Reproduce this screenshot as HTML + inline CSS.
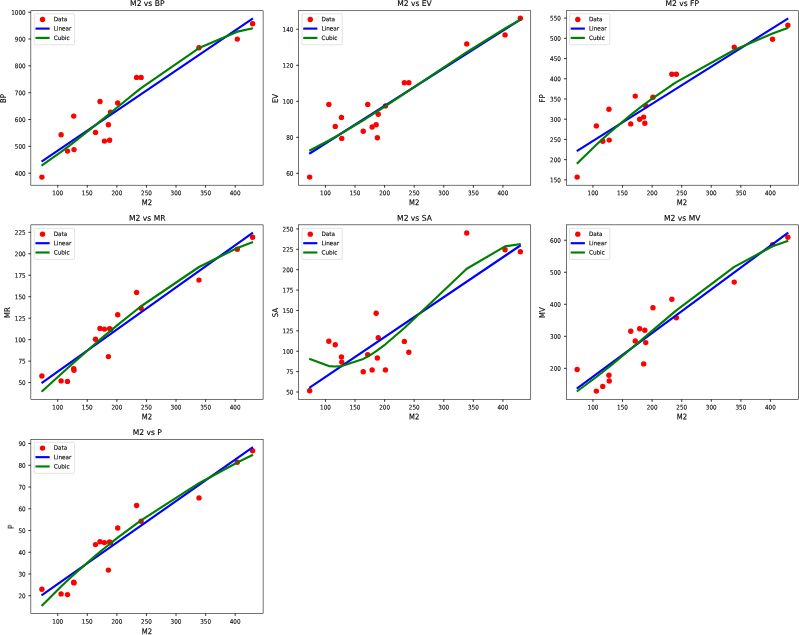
<!DOCTYPE html>
<html lang="en"><head><meta charset="utf-8"><title>M2 regression plots</title>
<style>html,body{margin:0;padding:0;background:#fff}body{width:799px;height:635px;overflow:hidden}svg{display:block}.b{filter:blur(0.4px)}.yl{filter:blur(0.2px)}text{stroke:#000;stroke-width:0.12px}</style>
</head><body>
<svg width="799" height="635" viewBox="0 0 799 635" font-family="'DejaVu Sans', 'Liberation Sans', sans-serif" fill="#000" text-rendering="geometricPrecision">
<rect width="799" height="635" fill="#fff"/>
<g class="b">
<g>
<g fill="#f00"><circle cx="41.9" cy="177.1" r="2.7"/><circle cx="61.1" cy="134.8" r="2.7"/><circle cx="67.5" cy="151.1" r="2.7"/><circle cx="73.7" cy="116.1" r="2.7"/><circle cx="74" cy="149.6" r="2.7"/><circle cx="95.5" cy="132.4" r="2.7"/><circle cx="100" cy="101.5" r="2.7"/><circle cx="104.4" cy="141.1" r="2.7"/><circle cx="108.4" cy="124.7" r="2.7"/><circle cx="109.6" cy="140.3" r="2.7"/><circle cx="110.5" cy="112.1" r="2.7"/><circle cx="117.7" cy="103" r="2.7"/><circle cx="136.6" cy="77.4" r="2.7"/><circle cx="141.1" cy="77.4" r="2.7"/><circle cx="199" cy="47.7" r="2.7"/><circle cx="237.3" cy="39.1" r="2.7"/><circle cx="252.6" cy="23.8" r="2.7"/></g>
<polyline fill="none" stroke="#00f" stroke-width="2.15" points="41.53,161.54 252.97,18.4"/>
<polyline fill="none" stroke="#008000" stroke-width="2.15" stroke-linejoin="round" points="41.53,165.51 61.1,151.89 67.5,147.13 73.7,142.4 74,142.17 95.5,125.11 100,121.45 104.4,117.86 108.4,114.59 109.6,113.61 110.5,112.87 117.7,106.98 136.6,91.68 141.1,88.11 199,48.02 237.3,31.66 253.04,28.32"/>
<path d="M57.7 185.2v2.5M87.28 185.2v2.5M116.86 185.2v2.5M146.44 185.2v2.5M176.02 185.2v2.5M205.6 185.2v2.5M235.18 185.2v2.5M30.85 12.21h-2.5M30.85 39.04h-2.5M30.85 65.86h-2.5M30.85 92.69h-2.5M30.85 119.51h-2.5M30.85 146.34h-2.5M30.85 173.16h-2.5" stroke="#000" stroke-width="0.8" fill="none"/>
<rect x="30.85" y="10.75" width="232.25" height="174.45" fill="none" stroke="#000" stroke-width="0.55"/>
<g font-size="6.3" text-anchor="middle">
<text transform="translate(57.7 195.2) rotate(0.04) scale(0.9 1)">100</text>
<text transform="translate(87.28 195.2) rotate(0.04) scale(0.9 1)">150</text>
<text transform="translate(116.86 195.2) rotate(0.04) scale(0.9 1)">200</text>
<text transform="translate(146.44 195.2) rotate(0.04) scale(0.9 1)">250</text>
<text transform="translate(176.02 195.2) rotate(0.04) scale(0.9 1)">300</text>
<text transform="translate(205.6 195.2) rotate(0.04) scale(0.9 1)">350</text>
<text transform="translate(235.18 195.2) rotate(0.04) scale(0.9 1)">400</text>
</g>
<g font-size="6.3" text-anchor="end">
<text transform="translate(25.6 14.71) rotate(0.04) scale(0.9 1)">1000</text>
<text transform="translate(25.6 41.54) rotate(0.04) scale(0.9 1)">900</text>
<text transform="translate(25.6 68.36) rotate(0.04) scale(0.9 1)">800</text>
<text transform="translate(25.6 95.19) rotate(0.04) scale(0.9 1)">700</text>
<text transform="translate(25.6 122.01) rotate(0.04) scale(0.9 1)">600</text>
<text transform="translate(25.6 148.84) rotate(0.04) scale(0.9 1)">500</text>
<text transform="translate(25.6 175.66) rotate(0.04) scale(0.9 1)">400</text>
</g>
<text transform="translate(147.28 5.95) rotate(0.04) scale(0.96 1)" font-size="7.9" text-anchor="middle">M2 vs BP</text>
<text transform="translate(146.98 205.3) rotate(0.04) scale(0.86 1)" font-size="8.0" text-anchor="middle">M2</text>
<rect x="34.3" y="13.7" width="40.2" height="31.1" rx="1.1" fill="#fff" fill-opacity="0.8" stroke="#ccc" stroke-opacity="0.8" stroke-width="0.7"/>
<circle cx="42.55" cy="19.55" r="2.7" fill="#f00"/>
<path d="M35.45 28.6H49.65" stroke="#00f" stroke-width="2.15" stroke-linecap="butt"/>
<path d="M35.45 37.9H49.65" stroke="#008000" stroke-width="2.15" stroke-linecap="butt"/>
<g font-size="6.0">
<text transform="translate(53.65 21.3) rotate(0.04) scale(0.95 1)">Data</text>
<text transform="translate(53.65 30.6) rotate(0.04) scale(0.95 1)">Linear</text>
<text transform="translate(53.65 39.9) rotate(0.04) scale(0.95 1)">Cubic</text>
</g>
</g>
<g>
<g fill="#f00"><circle cx="309.65" cy="177.1" r="2.7"/><circle cx="328.85" cy="104.5" r="2.7"/><circle cx="335.25" cy="126.4" r="2.7"/><circle cx="341.45" cy="117.4" r="2.7"/><circle cx="341.75" cy="138.4" r="2.7"/><circle cx="363.25" cy="131.2" r="2.7"/><circle cx="367.75" cy="104.5" r="2.7"/><circle cx="372.15" cy="127" r="2.7"/><circle cx="376.15" cy="124.7" r="2.7"/><circle cx="377.35" cy="137.7" r="2.7"/><circle cx="378.25" cy="114.2" r="2.7"/><circle cx="385.45" cy="105.9" r="2.7"/><circle cx="404.35" cy="82.8" r="2.7"/><circle cx="408.85" cy="82.8" r="2.7"/><circle cx="466.75" cy="43.9" r="2.7"/><circle cx="505.05" cy="34.9" r="2.7"/><circle cx="520.35" cy="18.2" r="2.7"/></g>
<polyline fill="none" stroke="#00f" stroke-width="2.15" points="309.27,153.73 520.73,19.39"/>
<polyline fill="none" stroke="#008000" stroke-width="2.15" stroke-linejoin="round" points="309.25,150.75 328.85,140.46 335.25,136.88 341.45,133.33 341.75,133.16 363.25,120.23 367.75,117.42 372.15,114.65 376.15,112.1 377.35,111.33 378.25,110.76 385.45,106.11 404.35,93.68 408.85,90.69 466.75,52.22 505.05,28.41 520.74,19.43"/>
<path d="M325.45 185.2v2.5M355.03 185.2v2.5M384.61 185.2v2.5M414.19 185.2v2.5M443.77 185.2v2.5M473.35 185.2v2.5M502.93 185.2v2.5M298.7 29.28h-2.5M298.7 65.29h-2.5M298.7 101.3h-2.5M298.7 137.31h-2.5M298.7 173.32h-2.5" stroke="#000" stroke-width="0.8" fill="none"/>
<rect x="298.7" y="10.75" width="232.05" height="174.45" fill="none" stroke="#000" stroke-width="0.55"/>
<g font-size="6.3" text-anchor="middle">
<text transform="translate(325.45 195.2) rotate(0.04) scale(0.9 1)">100</text>
<text transform="translate(355.03 195.2) rotate(0.04) scale(0.9 1)">150</text>
<text transform="translate(384.61 195.2) rotate(0.04) scale(0.9 1)">200</text>
<text transform="translate(414.19 195.2) rotate(0.04) scale(0.9 1)">250</text>
<text transform="translate(443.77 195.2) rotate(0.04) scale(0.9 1)">300</text>
<text transform="translate(473.35 195.2) rotate(0.04) scale(0.9 1)">350</text>
<text transform="translate(502.93 195.2) rotate(0.04) scale(0.9 1)">400</text>
</g>
<g font-size="6.3" text-anchor="end">
<text transform="translate(293.35 31.78) rotate(0.04) scale(0.9 1)">140</text>
<text transform="translate(293.35 67.79) rotate(0.04) scale(0.9 1)">120</text>
<text transform="translate(293.35 103.8) rotate(0.04) scale(0.9 1)">100</text>
<text transform="translate(293.35 139.81) rotate(0.04) scale(0.9 1)">80</text>
<text transform="translate(293.35 175.82) rotate(0.04) scale(0.9 1)">60</text>
</g>
<text transform="translate(414.48 5.95) rotate(0.04) scale(0.96 1)" font-size="7.9" text-anchor="middle">M2 vs EV</text>
<text transform="translate(414.23 205.3) rotate(0.04) scale(0.86 1)" font-size="8.0" text-anchor="middle">M2</text>
<rect x="302.05" y="13.7" width="40.2" height="31.1" rx="1.1" fill="#fff" fill-opacity="0.8" stroke="#ccc" stroke-opacity="0.8" stroke-width="0.7"/>
<circle cx="310.3" cy="19.55" r="2.7" fill="#f00"/>
<path d="M303.2 28.6H317.4" stroke="#00f" stroke-width="2.15" stroke-linecap="butt"/>
<path d="M303.2 37.9H317.4" stroke="#008000" stroke-width="2.15" stroke-linecap="butt"/>
<g font-size="6.0">
<text transform="translate(321.4 21.3) rotate(0.04) scale(0.95 1)">Data</text>
<text transform="translate(321.4 30.6) rotate(0.04) scale(0.95 1)">Linear</text>
<text transform="translate(321.4 39.9) rotate(0.04) scale(0.95 1)">Cubic</text>
</g>
</g>
<g>
<g fill="#f00"><circle cx="577.15" cy="177.1" r="2.7"/><circle cx="596.35" cy="125.9" r="2.7"/><circle cx="602.75" cy="141.3" r="2.7"/><circle cx="608.95" cy="109.2" r="2.7"/><circle cx="609.25" cy="140.1" r="2.7"/><circle cx="630.75" cy="123.9" r="2.7"/><circle cx="635.25" cy="96.1" r="2.7"/><circle cx="639.65" cy="119.3" r="2.7"/><circle cx="643.65" cy="117.1" r="2.7"/><circle cx="644.85" cy="123.3" r="2.7"/><circle cx="645.75" cy="105.7" r="2.7"/><circle cx="652.95" cy="97.3" r="2.7"/><circle cx="671.85" cy="74.3" r="2.7"/><circle cx="676.35" cy="74.3" r="2.7"/><circle cx="734.25" cy="47.1" r="2.7"/><circle cx="772.55" cy="39.3" r="2.7"/><circle cx="787.85" cy="25.2" r="2.7"/></g>
<polyline fill="none" stroke="#00f" stroke-width="2.15" points="576.77,151.08 788.23,18.32"/>
<polyline fill="none" stroke="#008000" stroke-width="2.15" stroke-linejoin="round" points="576.83,163.84 596.35,144.77 602.75,138.86 608.95,133.29 609.25,133.03 630.75,114.92 635.25,111.35 639.65,107.94 643.65,104.89 644.85,103.99 645.75,103.32 652.95,98.04 671.85,85.02 676.35,82.1 734.25,49.96 772.55,33.57 788.27,27.78"/>
<path d="M592.95 185.2v2.5M622.53 185.2v2.5M652.11 185.2v2.5M681.69 185.2v2.5M711.27 185.2v2.5M740.85 185.2v2.5M770.43 185.2v2.5M566.5 18.1h-2.5M566.5 38.32h-2.5M566.5 58.55h-2.5M566.5 78.77h-2.5M566.5 98.99h-2.5M566.5 119.21h-2.5M566.5 139.43h-2.5M566.5 159.65h-2.5M566.5 179.88h-2.5" stroke="#000" stroke-width="0.8" fill="none"/>
<rect x="566.5" y="10.75" width="232" height="174.45" fill="none" stroke="#000" stroke-width="0.55"/>
<g font-size="6.3" text-anchor="middle">
<text transform="translate(592.95 195.2) rotate(0.04) scale(0.9 1)">100</text>
<text transform="translate(622.53 195.2) rotate(0.04) scale(0.9 1)">150</text>
<text transform="translate(652.11 195.2) rotate(0.04) scale(0.9 1)">200</text>
<text transform="translate(681.69 195.2) rotate(0.04) scale(0.9 1)">250</text>
<text transform="translate(711.27 195.2) rotate(0.04) scale(0.9 1)">300</text>
<text transform="translate(740.85 195.2) rotate(0.04) scale(0.9 1)">350</text>
<text transform="translate(770.43 195.2) rotate(0.04) scale(0.9 1)">400</text>
</g>
<g font-size="6.3" text-anchor="end">
<text transform="translate(560.85 20.6) rotate(0.04) scale(0.9 1)">550</text>
<text transform="translate(560.85 40.82) rotate(0.04) scale(0.9 1)">500</text>
<text transform="translate(560.85 61.05) rotate(0.04) scale(0.9 1)">450</text>
<text transform="translate(560.85 81.27) rotate(0.04) scale(0.9 1)">400</text>
<text transform="translate(560.85 101.49) rotate(0.04) scale(0.9 1)">350</text>
<text transform="translate(560.85 121.71) rotate(0.04) scale(0.9 1)">300</text>
<text transform="translate(560.85 141.93) rotate(0.04) scale(0.9 1)">250</text>
<text transform="translate(560.85 162.15) rotate(0.04) scale(0.9 1)">200</text>
<text transform="translate(560.85 182.38) rotate(0.04) scale(0.9 1)">150</text>
</g>
<text transform="translate(682.2 5.95) rotate(0.04) scale(0.96 1)" font-size="7.9" text-anchor="middle">M2 vs FP</text>
<text transform="translate(681.9 205.3) rotate(0.04) scale(0.86 1)" font-size="8.0" text-anchor="middle">M2</text>
<rect x="569.55" y="13.7" width="40.2" height="31.1" rx="1.1" fill="#fff" fill-opacity="0.8" stroke="#ccc" stroke-opacity="0.8" stroke-width="0.7"/>
<circle cx="577.8" cy="19.55" r="2.7" fill="#f00"/>
<path d="M570.7 28.6H584.9" stroke="#00f" stroke-width="2.15" stroke-linecap="butt"/>
<path d="M570.7 37.9H584.9" stroke="#008000" stroke-width="2.15" stroke-linecap="butt"/>
<g font-size="6.0">
<text transform="translate(588.9 21.3) rotate(0.04) scale(0.95 1)">Data</text>
<text transform="translate(588.9 30.6) rotate(0.04) scale(0.95 1)">Linear</text>
<text transform="translate(588.9 39.9) rotate(0.04) scale(0.95 1)">Cubic</text>
</g>
</g>
<g>
<g fill="#f00"><circle cx="41.9" cy="376" r="2.7"/><circle cx="61.1" cy="380.9" r="2.7"/><circle cx="67.5" cy="381.4" r="2.7"/><circle cx="73.7" cy="368.6" r="2.7"/><circle cx="74" cy="370.2" r="2.7"/><circle cx="95.5" cy="339.2" r="2.7"/><circle cx="100" cy="328.4" r="2.7"/><circle cx="104.4" cy="329.1" r="2.7"/><circle cx="108.4" cy="356.6" r="2.7"/><circle cx="109.6" cy="328.6" r="2.7"/><circle cx="110.5" cy="329.4" r="2.7"/><circle cx="117.7" cy="314.8" r="2.7"/><circle cx="136.6" cy="292.5" r="2.7"/><circle cx="141.1" cy="308.3" r="2.7"/><circle cx="199" cy="280.1" r="2.7"/><circle cx="237.3" cy="249.3" r="2.7"/><circle cx="252.6" cy="237.3" r="2.7"/></g>
<polyline fill="none" stroke="#00f" stroke-width="2.15" points="41.53,383.12 252.97,232.74"/>
<polyline fill="none" stroke="#008000" stroke-width="2.15" stroke-linejoin="round" points="41.57,391.74 61.1,373.97 67.5,368.21 73.7,362.66 74,362.39 95.5,343.54 100,339.68 104.4,335.94 108.4,332.56 109.6,331.56 110.5,330.81 117.7,324.84 136.6,309.73 141.1,306.25 199,266.99 237.3,247.94 253.02,242.04"/>
<path d="M57.7 399.4v2.5M87.28 399.4v2.5M116.86 399.4v2.5M146.44 399.4v2.5M176.02 399.4v2.5M205.6 399.4v2.5M235.18 399.4v2.5M30.85 232.31h-2.5M30.85 253.78h-2.5M30.85 275.25h-2.5M30.85 296.72h-2.5M30.85 318.18h-2.5M30.85 339.65h-2.5M30.85 361.12h-2.5M30.85 382.59h-2.5" stroke="#000" stroke-width="0.8" fill="none"/>
<rect x="30.85" y="224.85" width="232.25" height="174.55" fill="none" stroke="#000" stroke-width="0.55"/>
<g font-size="6.3" text-anchor="middle">
<text transform="translate(57.7 409.4) rotate(0.04) scale(0.9 1)">100</text>
<text transform="translate(87.28 409.4) rotate(0.04) scale(0.9 1)">150</text>
<text transform="translate(116.86 409.4) rotate(0.04) scale(0.9 1)">200</text>
<text transform="translate(146.44 409.4) rotate(0.04) scale(0.9 1)">250</text>
<text transform="translate(176.02 409.4) rotate(0.04) scale(0.9 1)">300</text>
<text transform="translate(205.6 409.4) rotate(0.04) scale(0.9 1)">350</text>
<text transform="translate(235.18 409.4) rotate(0.04) scale(0.9 1)">400</text>
</g>
<g font-size="6.3" text-anchor="end">
<text transform="translate(25.6 234.81) rotate(0.04) scale(0.9 1)">225</text>
<text transform="translate(25.6 256.28) rotate(0.04) scale(0.9 1)">200</text>
<text transform="translate(25.6 277.75) rotate(0.04) scale(0.9 1)">175</text>
<text transform="translate(25.6 299.22) rotate(0.04) scale(0.9 1)">150</text>
<text transform="translate(25.6 320.68) rotate(0.04) scale(0.9 1)">125</text>
<text transform="translate(25.6 342.15) rotate(0.04) scale(0.9 1)">100</text>
<text transform="translate(25.6 363.62) rotate(0.04) scale(0.9 1)">75</text>
<text transform="translate(25.6 385.09) rotate(0.04) scale(0.9 1)">50</text>
</g>
<text transform="translate(147.28 220.7) rotate(0.04) scale(0.96 1)" font-size="7.9" text-anchor="middle">M2 vs MR</text>
<text transform="translate(146.98 419.5) rotate(0.04) scale(0.86 1)" font-size="8.0" text-anchor="middle">M2</text>
<rect x="34.3" y="228.3" width="40.2" height="31.1" rx="1.1" fill="#fff" fill-opacity="0.8" stroke="#ccc" stroke-opacity="0.8" stroke-width="0.7"/>
<circle cx="42.55" cy="234.15" r="2.7" fill="#f00"/>
<path d="M35.45 243.2H49.65" stroke="#00f" stroke-width="2.15" stroke-linecap="butt"/>
<path d="M35.45 252.5H49.65" stroke="#008000" stroke-width="2.15" stroke-linecap="butt"/>
<g font-size="6.0">
<text transform="translate(53.65 235.9) rotate(0.04) scale(0.95 1)">Data</text>
<text transform="translate(53.65 245.2) rotate(0.04) scale(0.95 1)">Linear</text>
<text transform="translate(53.65 254.5) rotate(0.04) scale(0.95 1)">Cubic</text>
</g>
</g>
<g>
<g fill="#f00"><circle cx="309.65" cy="390.8" r="2.7"/><circle cx="328.85" cy="341.3" r="2.7"/><circle cx="335.25" cy="344.7" r="2.7"/><circle cx="341.45" cy="357" r="2.7"/><circle cx="341.75" cy="362.1" r="2.7"/><circle cx="363.25" cy="371.8" r="2.7"/><circle cx="367.75" cy="354.6" r="2.7"/><circle cx="372.15" cy="369.9" r="2.7"/><circle cx="376.15" cy="313.2" r="2.7"/><circle cx="377.35" cy="358" r="2.7"/><circle cx="378.25" cy="337.8" r="2.7"/><circle cx="385.45" cy="369.9" r="2.7"/><circle cx="404.35" cy="341.4" r="2.7"/><circle cx="408.85" cy="352.2" r="2.7"/><circle cx="466.75" cy="233" r="2.7"/><circle cx="505.05" cy="249.8" r="2.7"/><circle cx="520.35" cy="251.7" r="2.7"/></g>
<polyline fill="none" stroke="#00f" stroke-width="2.15" points="309.28,387.78 520.72,245.26"/>
<polyline fill="none" stroke="#008000" stroke-width="2.15" stroke-linejoin="round" points="309.23,358.7 328.85,366.07 335.25,366.51 341.45,366.1 341.75,366.06 363.25,358.91 367.75,356.46 372.15,353.8 376.15,351.15 377.35,350.32 378.25,349.69 385.45,344.3 404.35,327.95 408.85,323.72 466.75,268.8 505.05,246.4 520.79,244.03"/>
<path d="M325.45 399.4v2.5M355.03 399.4v2.5M384.61 399.4v2.5M414.19 399.4v2.5M443.77 399.4v2.5M473.35 399.4v2.5M502.93 399.4v2.5M298.7 228.91h-2.5M298.7 249.3h-2.5M298.7 269.68h-2.5M298.7 290.07h-2.5M298.7 310.46h-2.5M298.7 330.84h-2.5M298.7 351.23h-2.5M298.7 371.62h-2.5M298.7 392h-2.5" stroke="#000" stroke-width="0.8" fill="none"/>
<rect x="298.7" y="224.85" width="232.05" height="174.55" fill="none" stroke="#000" stroke-width="0.55"/>
<g font-size="6.3" text-anchor="middle">
<text transform="translate(325.45 409.4) rotate(0.04) scale(0.9 1)">100</text>
<text transform="translate(355.03 409.4) rotate(0.04) scale(0.9 1)">150</text>
<text transform="translate(384.61 409.4) rotate(0.04) scale(0.9 1)">200</text>
<text transform="translate(414.19 409.4) rotate(0.04) scale(0.9 1)">250</text>
<text transform="translate(443.77 409.4) rotate(0.04) scale(0.9 1)">300</text>
<text transform="translate(473.35 409.4) rotate(0.04) scale(0.9 1)">350</text>
<text transform="translate(502.93 409.4) rotate(0.04) scale(0.9 1)">400</text>
</g>
<g font-size="6.3" text-anchor="end">
<text transform="translate(293.35 231.41) rotate(0.04) scale(0.9 1)">250</text>
<text transform="translate(293.35 251.8) rotate(0.04) scale(0.9 1)">225</text>
<text transform="translate(293.35 272.18) rotate(0.04) scale(0.9 1)">200</text>
<text transform="translate(293.35 292.57) rotate(0.04) scale(0.9 1)">175</text>
<text transform="translate(293.35 312.96) rotate(0.04) scale(0.9 1)">150</text>
<text transform="translate(293.35 333.34) rotate(0.04) scale(0.9 1)">125</text>
<text transform="translate(293.35 353.73) rotate(0.04) scale(0.9 1)">100</text>
<text transform="translate(293.35 374.12) rotate(0.04) scale(0.9 1)">75</text>
<text transform="translate(293.35 394.5) rotate(0.04) scale(0.9 1)">50</text>
</g>
<text transform="translate(414.48 220.7) rotate(0.04) scale(0.96 1)" font-size="7.9" text-anchor="middle">M2 vs SA</text>
<text transform="translate(414.23 419.5) rotate(0.04) scale(0.86 1)" font-size="8.0" text-anchor="middle">M2</text>
<rect x="302.05" y="228.3" width="40.2" height="31.1" rx="1.1" fill="#fff" fill-opacity="0.8" stroke="#ccc" stroke-opacity="0.8" stroke-width="0.7"/>
<circle cx="310.3" cy="234.15" r="2.7" fill="#f00"/>
<path d="M303.2 243.2H317.4" stroke="#00f" stroke-width="2.15" stroke-linecap="butt"/>
<path d="M303.2 252.5H317.4" stroke="#008000" stroke-width="2.15" stroke-linecap="butt"/>
<g font-size="6.0">
<text transform="translate(321.4 235.9) rotate(0.04) scale(0.95 1)">Data</text>
<text transform="translate(321.4 245.2) rotate(0.04) scale(0.95 1)">Linear</text>
<text transform="translate(321.4 254.5) rotate(0.04) scale(0.95 1)">Cubic</text>
</g>
</g>
<g>
<g fill="#f00"><circle cx="577.15" cy="369.5" r="2.7"/><circle cx="596.35" cy="391.1" r="2.7"/><circle cx="602.75" cy="386.4" r="2.7"/><circle cx="608.95" cy="375.2" r="2.7"/><circle cx="609.25" cy="381" r="2.7"/><circle cx="630.75" cy="331.3" r="2.7"/><circle cx="635.25" cy="341" r="2.7"/><circle cx="639.65" cy="328.7" r="2.7"/><circle cx="643.65" cy="363.9" r="2.7"/><circle cx="644.85" cy="330.3" r="2.7"/><circle cx="645.75" cy="342.6" r="2.7"/><circle cx="652.95" cy="307.8" r="2.7"/><circle cx="671.85" cy="299.3" r="2.7"/><circle cx="676.35" cy="317.7" r="2.7"/><circle cx="734.25" cy="282.1" r="2.7"/><circle cx="772.55" cy="244.6" r="2.7"/><circle cx="787.85" cy="237.3" r="2.7"/></g>
<polyline fill="none" stroke="#00f" stroke-width="2.15" points="576.79,388.62 788.21,232.74"/>
<polyline fill="none" stroke="#008000" stroke-width="2.15" stroke-linejoin="round" points="576.79,391.5 596.35,377 602.75,371.99 608.95,367.03 609.25,366.79 630.75,349 635.25,345.2 639.65,341.47 643.65,338.07 644.85,337.04 645.75,336.28 652.95,330.14 671.85,314.16 676.35,310.41 734.25,266.83 772.55,246.32 788.27,240.69"/>
<path d="M592.95 399.4v2.5M622.53 399.4v2.5M652.11 399.4v2.5M681.69 399.4v2.5M711.27 399.4v2.5M740.85 399.4v2.5M770.43 399.4v2.5M566.5 240.22h-2.5M566.5 272.25h-2.5M566.5 304.28h-2.5M566.5 336.31h-2.5M566.5 368.34h-2.5" stroke="#000" stroke-width="0.8" fill="none"/>
<rect x="566.5" y="224.85" width="232" height="174.55" fill="none" stroke="#000" stroke-width="0.55"/>
<g font-size="6.3" text-anchor="middle">
<text transform="translate(592.95 409.4) rotate(0.04) scale(0.9 1)">100</text>
<text transform="translate(622.53 409.4) rotate(0.04) scale(0.9 1)">150</text>
<text transform="translate(652.11 409.4) rotate(0.04) scale(0.9 1)">200</text>
<text transform="translate(681.69 409.4) rotate(0.04) scale(0.9 1)">250</text>
<text transform="translate(711.27 409.4) rotate(0.04) scale(0.9 1)">300</text>
<text transform="translate(740.85 409.4) rotate(0.04) scale(0.9 1)">350</text>
<text transform="translate(770.43 409.4) rotate(0.04) scale(0.9 1)">400</text>
</g>
<g font-size="6.3" text-anchor="end">
<text transform="translate(560.85 242.72) rotate(0.04) scale(0.9 1)">600</text>
<text transform="translate(560.85 274.75) rotate(0.04) scale(0.9 1)">500</text>
<text transform="translate(560.85 306.78) rotate(0.04) scale(0.9 1)">400</text>
<text transform="translate(560.85 338.81) rotate(0.04) scale(0.9 1)">300</text>
<text transform="translate(560.85 370.84) rotate(0.04) scale(0.9 1)">200</text>
</g>
<text transform="translate(682.2 220.7) rotate(0.04) scale(0.96 1)" font-size="7.9" text-anchor="middle">M2 vs MV</text>
<text transform="translate(681.9 419.5) rotate(0.04) scale(0.86 1)" font-size="8.0" text-anchor="middle">M2</text>
<rect x="569.55" y="228.3" width="40.2" height="31.1" rx="1.1" fill="#fff" fill-opacity="0.8" stroke="#ccc" stroke-opacity="0.8" stroke-width="0.7"/>
<circle cx="577.8" cy="234.15" r="2.7" fill="#f00"/>
<path d="M570.7 243.2H584.9" stroke="#00f" stroke-width="2.15" stroke-linecap="butt"/>
<path d="M570.7 252.5H584.9" stroke="#008000" stroke-width="2.15" stroke-linecap="butt"/>
<g font-size="6.0">
<text transform="translate(588.9 235.9) rotate(0.04) scale(0.95 1)">Data</text>
<text transform="translate(588.9 245.2) rotate(0.04) scale(0.95 1)">Linear</text>
<text transform="translate(588.9 254.5) rotate(0.04) scale(0.95 1)">Cubic</text>
</g>
</g>
<g>
<g fill="#f00"><circle cx="41.9" cy="589.3" r="2.7"/><circle cx="61.1" cy="593.9" r="2.7"/><circle cx="67.5" cy="594.6" r="2.7"/><circle cx="73.7" cy="582.2" r="2.7"/><circle cx="74" cy="582.9" r="2.7"/><circle cx="95.5" cy="544.6" r="2.7"/><circle cx="100" cy="541.7" r="2.7"/><circle cx="104.4" cy="542.6" r="2.7"/><circle cx="108.4" cy="570.1" r="2.7"/><circle cx="109.6" cy="541.9" r="2.7"/><circle cx="110.5" cy="542.9" r="2.7"/><circle cx="117.7" cy="528" r="2.7"/><circle cx="136.6" cy="505.5" r="2.7"/><circle cx="141.1" cy="521.3" r="2.7"/><circle cx="199" cy="497.9" r="2.7"/><circle cx="237.3" cy="462.3" r="2.7"/><circle cx="252.6" cy="450.8" r="2.7"/></g>
<polyline fill="none" stroke="#00f" stroke-width="2.15" points="41.53,595.4 252.97,447.1"/>
<polyline fill="none" stroke="#008000" stroke-width="2.15" stroke-linejoin="round" points="41.58,605.93 61.1,586.58 67.5,580.52 73.7,574.79 74,574.52 95.5,555.65 100,551.89 104.4,548.27 108.4,545.03 109.6,544.07 110.5,543.35 117.7,537.69 136.6,523.52 141.1,520.3 199,483.2 237.3,462.53 253,454.77"/>
<path d="M57.7 613.45v2.5M87.28 613.45v2.5M116.86 613.45v2.5M146.44 613.45v2.5M176.02 613.45v2.5M205.6 613.45v2.5M235.18 613.45v2.5M30.85 443.54h-2.5M30.85 465.29h-2.5M30.85 487.03h-2.5M30.85 508.78h-2.5M30.85 530.52h-2.5M30.85 552.27h-2.5M30.85 574.01h-2.5M30.85 595.76h-2.5" stroke="#000" stroke-width="0.8" fill="none"/>
<rect x="30.85" y="439.3" width="232.25" height="174.15" fill="none" stroke="#000" stroke-width="0.55"/>
<g font-size="6.3" text-anchor="middle">
<text transform="translate(57.7 623.85) rotate(0.04) scale(0.9 1)">100</text>
<text transform="translate(87.28 623.85) rotate(0.04) scale(0.9 1)">150</text>
<text transform="translate(116.86 623.85) rotate(0.04) scale(0.9 1)">200</text>
<text transform="translate(146.44 623.85) rotate(0.04) scale(0.9 1)">250</text>
<text transform="translate(176.02 623.85) rotate(0.04) scale(0.9 1)">300</text>
<text transform="translate(205.6 623.85) rotate(0.04) scale(0.9 1)">350</text>
<text transform="translate(235.18 623.85) rotate(0.04) scale(0.9 1)">400</text>
</g>
<g font-size="6.3" text-anchor="end">
<text transform="translate(25.6 446.04) rotate(0.04) scale(0.9 1)">90</text>
<text transform="translate(25.6 467.79) rotate(0.04) scale(0.9 1)">80</text>
<text transform="translate(25.6 489.53) rotate(0.04) scale(0.9 1)">70</text>
<text transform="translate(25.6 511.28) rotate(0.04) scale(0.9 1)">60</text>
<text transform="translate(25.6 533.02) rotate(0.04) scale(0.9 1)">50</text>
<text transform="translate(25.6 554.77) rotate(0.04) scale(0.9 1)">40</text>
<text transform="translate(25.6 576.51) rotate(0.04) scale(0.9 1)">30</text>
<text transform="translate(25.6 598.26) rotate(0.04) scale(0.9 1)">20</text>
</g>
<text transform="translate(147.28 435) rotate(0.04) scale(0.96 1)" font-size="7.9" text-anchor="middle">M2 vs P</text>
<text transform="translate(146.98 634.35) rotate(0.04) scale(0.86 1)" font-size="8.0" text-anchor="middle">M2</text>
<rect x="34.3" y="442.25" width="40.2" height="31.1" rx="1.1" fill="#fff" fill-opacity="0.8" stroke="#ccc" stroke-opacity="0.8" stroke-width="0.7"/>
<circle cx="42.55" cy="448.1" r="2.7" fill="#f00"/>
<path d="M35.45 457.15H49.65" stroke="#00f" stroke-width="2.15" stroke-linecap="butt"/>
<path d="M35.45 466.45H49.65" stroke="#008000" stroke-width="2.15" stroke-linecap="butt"/>
<g font-size="6.0">
<text transform="translate(53.65 449.85) rotate(0.04) scale(0.95 1)">Data</text>
<text transform="translate(53.65 459.15) rotate(0.04) scale(0.95 1)">Linear</text>
<text transform="translate(53.65 468.45) rotate(0.04) scale(0.95 1)">Cubic</text>
</g>
</g>
</g>
<g class="yl"><text transform="translate(6.15 98.47) rotate(-90) scale(0.86 1)" font-size="8.0" text-anchor="middle">BP</text><text transform="translate(278 98.47) rotate(-90) scale(0.86 1)" font-size="8.0" text-anchor="middle">EV</text><text transform="translate(545.2 98.47) rotate(-90) scale(0.86 1)" font-size="8.0" text-anchor="middle">FP</text><text transform="translate(10.15 312.62) rotate(-90) scale(0.86 1)" font-size="8.0" text-anchor="middle">MR</text><text transform="translate(278 312.62) rotate(-90) scale(0.86 1)" font-size="8.0" text-anchor="middle">SA</text><text transform="translate(545.2 312.62) rotate(-90) scale(0.86 1)" font-size="8.0" text-anchor="middle">MV</text><text transform="translate(13.7 526.88) rotate(-90) scale(0.86 1)" font-size="8.0" text-anchor="middle">P</text></g>
</svg>
</body></html>
